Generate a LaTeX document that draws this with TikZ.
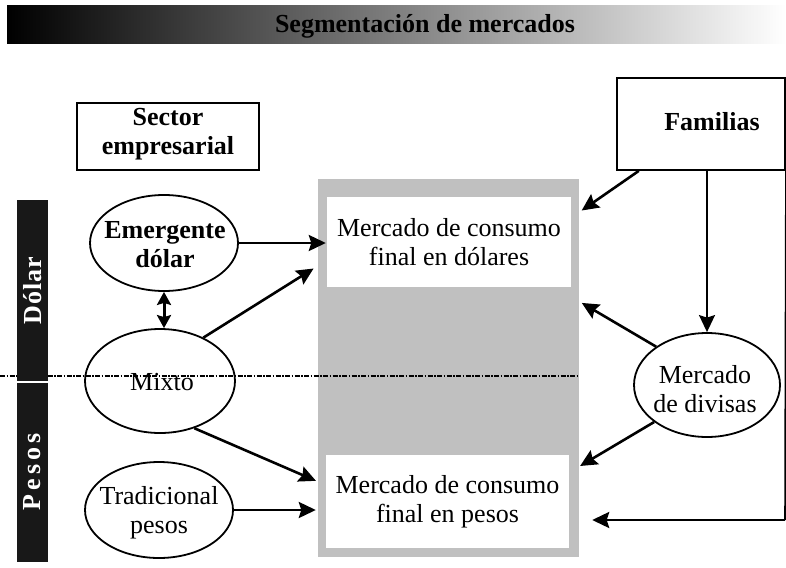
\documentclass[tikz,border=0pt]{standalone}
\usepackage{fontspec}
\setmainfont{Liberation Serif}
\usetikzlibrary{shapes.geometric,arrows.meta,calc}
\definecolor{panelgray}{RGB}{192,192,192}
\definecolor{barblack}{RGB}{24,24,24}
\begin{document}
\begin{tikzpicture}[x=1pt,y=-1pt,
  every node/.style={font=\fontsize{26}{29}\selectfont},
  boxnode/.style={draw, line width=1.8pt, rectangle, inner sep=0pt, fill=white},
  mktbox/.style={rectangle, inner sep=0pt, fill=white, align=center},
  ell/.style={draw, ellipse, line width=1.8pt, inner sep=0pt},
  txt/.style={align=center, inner sep=0pt},
  boldtxt/.style={align=center, inner sep=0pt, font=\fontsize{26}{29}\selectfont\bfseries},
  bar/.style={rectangle, fill=barblack, rotate=90, inner sep=0pt, text=white,
              font=\fontsize{26}{29}\selectfont\bfseries},
  arr/.style={line width=2.6pt, -{Stealth[length=17pt,width=16pt,inset=2.5pt]}},
  dblarr/.style={line width=3pt, {Stealth[length=13pt,width=14pt,inset=2pt]}-{Stealth[length=13pt,width=14pt,inset=2pt]}},
  thin/.style={line width=1.6pt},
  divline/.style={line width=1.5pt, dash pattern=on 5pt off 1.5pt on 1.5pt off 1.5pt}
]
\useasboundingbox (0,0) rectangle (786,567);

% title bar
\shade[left color=black, right color=white] (7,6) rectangle (786,44);
\node[boldtxt] (title) at (425,26) {Segmentación de mercados};

% top boxes
\node[boxnode, minimum width=182pt, minimum height=67pt] (sector) at (168,136.5) {};
\node[boldtxt] (sectortxt) at (168,134) {Sector\\empresarial};
\node[boxnode, minimum width=168pt, minimum height=92pt] (familias) at (701,124) {};
\node[boldtxt] (familiastxt) at (712,122) {Familias};

% central gray panel and market boxes
\node[rectangle, fill=panelgray, inner sep=0pt, minimum width=261pt, minimum height=378pt] (panel) at (448.5,368) {};
\node[mktbox, minimum width=244pt, minimum height=90pt] (dolmkt) at (449,242) {Mercado de consumo\\final en dólares};
\node[mktbox, minimum width=243pt, minimum height=93pt] (pesmkt) at (447.5,501.5) {Mercado de consumo\\final en pesos};

% ellipses
\node[ell, minimum width=148pt, minimum height=96pt] (emerg) at (164,243) {};
\node[boldtxt] (emergtxt) at (165,245) {Emergente\\dólar};
\node[ell, minimum width=150pt, minimum height=104pt] (mixto) at (160,381) {};
\node[txt] (mixtotxt) at (162,382) {Mixto};
\node[ell, minimum width=148pt, minimum height=96pt] (trad) at (159,510) {};
\node[txt] (tradtxt) at (159,513) {Tradicional\\pesos};
\node[ell, minimum width=146pt, minimum height=104pt] (divisas) at (707,385) {};
\node[txt] (divisastxt) at (705,389) {Mercado\\de divisas};

% dividing line
\draw[divline] (0,376) -- (579,376);

% side bars
\node[bar, minimum width=181pt, minimum height=31pt] (dolarbar) at (32.5,290.5) {\addfontfeature{LetterSpace=4}Dólar};
\node[bar, minimum width=179pt, minimum height=31pt] (pesosbar) at (32.5,472) {\addfontfeature{LetterSpace=16}Pesos};

% connectors
\draw[arr, shorten >=1pt] (emerg.east) -- (emerg.east -| dolmkt.west);
\draw[dblarr] (emerg.south) -- (emerg.south |- mixto.north);
\draw[arr, shorten >=5pt] (mixto.45) -- (panel.142.8);
\draw[arr, shorten >=2pt] (mixto.-54) -- (panel.221.1);
\draw[arr, shorten >=2pt] (trad.east) -- (trad.east -| panel.west);
\draw[arr, shorten >=3pt] (familias.217) -- (panel.50.6);
\draw[arr, line width=1.8pt] (familias.south -| divisas.north) -- (divisas.north);
\draw[arr, shorten >=3pt] (divisas.143) -- (panel.27.5);
\draw[arr, shorten >=1pt] (divisas.215.5) -- (panel.-37.6);
\coordinate (rcorner) at (785,520);
\draw[thin] (familias.south east) -- (rcorner);
\draw[arr, shorten >=13pt] (rcorner) -- (rcorner -| panel.east);
\end{tikzpicture}
\end{document}
